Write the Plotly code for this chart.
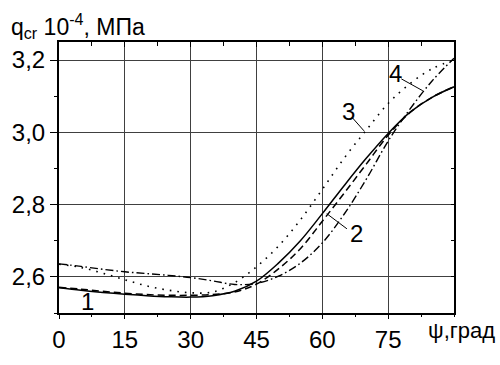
import plotly.graph_objects as go

# ---- data ----
psi = [0, 5, 10, 15, 20, 25, 30, 35, 40, 45, 50, 55, 60, 65, 70, 75, 80, 85, 90]
q1 = [2.570, 2.563, 2.557, 2.552, 2.548, 2.545, 2.544, 2.548, 2.560, 2.588, 2.638, 2.700,
      2.775, 2.853, 2.928, 2.997, 3.056, 3.097, 3.126]
q2 = [2.571, 2.566, 2.560, 2.555, 2.551, 2.549, 2.549, 2.551, 2.558, 2.580, 2.622, 2.678,
      2.754, 2.832, 2.912, 2.992, 3.055, 3.097, 3.126]
q3 = [2.635, 2.626, 2.610, 2.592, 2.575, 2.563, 2.556, 2.558, 2.584, 2.628, 2.685, 2.758,
      2.842, 2.929, 3.006, 3.080, 3.135, 3.176, 3.200]
q4 = [2.636, 2.629, 2.621, 2.614, 2.609, 2.604, 2.598, 2.589, 2.579, 2.582, 2.602, 2.638,
      2.694, 2.774, 2.870, 2.976, 3.065, 3.142, 3.205]

x_ticks = [0, 15, 30, 45, 60, 75]
x_ticktext = ["0", "15", "30", "45", "60", "75"]
y_ticks = [2.6, 2.8, 3.0, 3.2]
y_ticktext = ["2,6", "2,8", "3,0", "3,2"]

FONT = "Liberation Sans, Arial, sans-serif"

fig = go.Figure()
styles = [
    (q1, "solid", 1.5),
    (q2, "7px,4px", 1.5),
    (q3, "1.6px,6px", 1.6),
    (q4, "8px,3px,1.6px,3px", 1.4),
]
for q, dash, w in styles:
    fig.add_trace(go.Scatter(x=psi, y=q, mode="lines",
                             line=dict(color="black", width=w, dash=dash, shape="spline", smoothing=1.0),
                             showlegend=False, hoverinfo="skip"))

# dummy trace for top/right tick axes
fig.add_trace(go.Scatter(x=[None], y=[None], xaxis="x2", yaxis="y2", showlegend=False))

fig.update_layout(
    width=500, height=365,
    margin=dict(l=57, r=46, t=42, b=35),
    paper_bgcolor="white", plot_bgcolor="white",
    font=dict(family=FONT, size=24, color="black"),
    xaxis=dict(range=[0, 90], tickvals=x_ticks, ticktext=x_ticktext,
               ticks="outside", ticklen=4, tickwidth=1, tickcolor="black",
               minor=dict(dtick=7.5, tick0=0, ticks="outside", ticklen=2, tickwidth=1, tickcolor="black"),
               showline=True, linewidth=2, linecolor="black", mirror=True,
               showgrid=True, gridcolor="#404040", gridwidth=1, zeroline=False,
               tickfont=dict(size=24)),
    yaxis=dict(range=[2.5, 3.25], tickvals=y_ticks, ticktext=y_ticktext,
               ticks="outside", ticklen=7, tickwidth=1, tickcolor="black",
               minor=dict(dtick=0.1, tick0=2.5, ticks="outside", ticklen=3, tickwidth=1, tickcolor="black"),
               showline=True, linewidth=2, linecolor="black", mirror=True,
               showgrid=True, gridcolor="#404040", gridwidth=1, zeroline=False,
               tickfont=dict(size=24)),
    xaxis2=dict(range=[0, 90], overlaying="x", side="top", anchor="y",
                tickvals=x_ticks, ticks="inside", ticklen=5, tickwidth=1, tickcolor="black",
                minor=dict(dtick=7.5, tick0=0, ticks="inside", ticklen=4, tickwidth=1, tickcolor="black"),
                showticklabels=False, showgrid=False, showline=False, zeroline=False),
    yaxis2=dict(range=[2.5, 3.25], overlaying="y", side="right", anchor="x",
                tickvals=y_ticks, ticks="inside", ticklen=3, tickwidth=1, tickcolor="black",
                minor=dict(dtick=0.1, tick0=2.5, ticks="inside", ticklen=3, tickwidth=1, tickcolor="black"),
                showticklabels=False, showgrid=False, showline=False, zeroline=False),
)

# curve labels and leader lines
labels = [("1", 6.5, 2.532), ("2", 67.8, 2.719), ("3", 65.9, 3.059), ("4", 76.7, 3.162)]
for t, lx, ly in labels:
    fig.add_annotation(x=lx, y=ly, xref="x", yref="y", text=t, showarrow=False,
                       font=dict(family=FONT, size=24, color="black"))
leaders = [(61.0, 2.775, 65.6, 2.733), (66.8, 3.041, 69.5, 3.004), (78.0, 3.148, 82.9, 3.115)]
for x0, y0, x1, y1 in leaders:
    fig.add_shape(type="line", x0=x0, y0=y0, x1=x1, y1=y1, xref="x", yref="y",
                  line=dict(color="black", width=1))

# axis titles
fig.add_annotation(xref="paper", yref="paper", x=(7 - 57) / 397, y=1 + (42 - 25) / 288,
                   xanchor="left", yanchor="middle", showarrow=False,
                   text="q<sub>cr</sub> 10<sup>-4</sup>, МПа",
                   font=dict(family=FONT, size=23, color="black"))
fig.add_annotation(xref="paper", yref="paper", x=(461.5 - 57) / 397, y=-(349 - 330) / 288,
                   xanchor="center", yanchor="middle", showarrow=False,
                   text="ψ,град", font=dict(family=FONT, size=22, color="black"))

fig.write_html("out.html")
